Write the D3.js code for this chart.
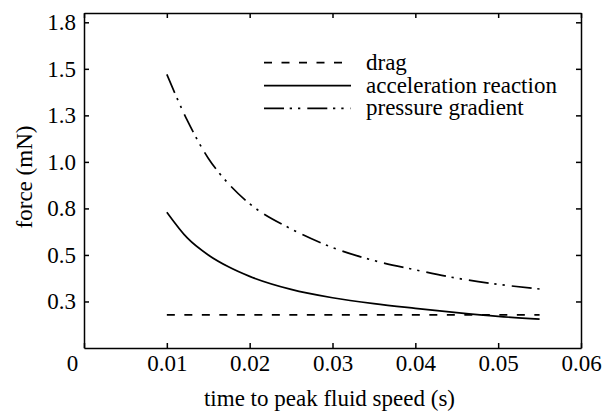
<!DOCTYPE html>
<html>
<head>
<meta charset="utf-8">
<script src="https://cdn.jsdelivr.net/npm/d3@7"></script>
<style>
  body { margin: 0; background: #fff; }
  svg { font-family: "Liberation Serif", "Times New Roman", serif; }
  .axis path, .axis line { stroke: #000; stroke-width: 1.5; }
  .axis text { font-size: 23px; fill: #000; font-family: "Liberation Serif", "Times New Roman", serif; }
</style>
</head>
<body>
<svg id="svgChart"></svg>
<script>
// time to peak fluid speed (s)
var times = [0.010, 0.0125, 0.015, 0.0175, 0.020, 0.025, 0.030, 0.035, 0.040, 0.045, 0.050, 0.055];
// forces (mN)
var drag = [0.178, 0.178, 0.178, 0.178, 0.178, 0.178, 0.178, 0.178, 0.178, 0.178, 0.178, 0.178];
var accelerationReaction = [0.73, 0.59, 0.50, 0.435, 0.385, 0.315, 0.27, 0.238, 0.213, 0.19, 0.17, 0.155];
var pressureGradient = [1.47, 1.22, 1.02, 0.88, 0.775, 0.64, 0.54, 0.47, 0.42, 0.375, 0.342, 0.317];

var seriesNames = ["drag", "acceleration reaction", "pressure gradient"];

var xTicks = [0, 0.01, 0.02, 0.03, 0.04, 0.05, 0.06];
var xTickLabels = ["0", "0.01", "0.02", "0.03", "0.04", "0.05", "0.06"];
var yTicks = [0.25, 0.5, 0.75, 1.0, 1.25, 1.5, 1.75];
var yTickLabels = ["0.3", "0.5", "0.8", "1.0", "1.3", "1.5", "1.8"];

class Chart {
    constructor() {
        this.margin = {top: 13, right: 35, bottom: 64, left: 84};
        this.width = 616 - this.margin.left - this.margin.right;
        this.height = 412 - this.margin.top - this.margin.bottom;
        this.dashes = ["8,9.5", null, "20,5.7,2.3,6,2.3,7"];
        this.draw();
    }

    draw() {
        this.svg = d3.select("#svgChart")
            .attr("width", 616)
            .attr("height", 412);
        this.g = this.svg.append("g")
            .attr("transform", "translate(" + this.margin.left + "," + this.margin.top + ")");

        this.createScales();
        this.addAxes();
        this.addLines();
        this.addLegend();
    }

    createScales() {
        this.x = d3.scaleLinear().domain([0, 0.06]).range([0, this.width]);
        this.y = d3.scaleLinear().domain([0, 1.8]).range([this.height, 0]);
    }

    addAxes() {
        var g = this.g;

        // bottom axis, ticks pointing in
        var xb = g.append("g")
            .attr("class", "axis")
            .attr("transform", "translate(0," + this.height + ")")
            .call(d3.axisBottom(this.x).tickValues(xTicks).tickSizeInner(-5).tickSizeOuter(0)
                .tickPadding(7).tickFormat(function(d, i) { return xTickLabels[i]; }));
        // the zero sits off to the left of the corner
        xb.selectAll(".tick text").filter(function(d) { return d === 0; }).attr("dx", -12);

        g.append("g")
            .attr("class", "axis")
            .call(d3.axisTop(this.x).tickValues(xTicks).tickSizeInner(-5).tickSizeOuter(0).tickFormat(""));

        g.append("g")
            .attr("class", "axis")
            .call(d3.axisLeft(this.y).tickValues(yTicks).tickSizeInner(-5).tickSizeOuter(0)
                .tickPadding(8).tickFormat(function(d, i) { return yTickLabels[i]; }));

        g.append("g")
            .attr("class", "axis")
            .attr("transform", "translate(" + this.width + ",0)")
            .call(d3.axisRight(this.y).tickValues(yTicks).tickSizeInner(-5).tickSizeOuter(0).tickFormat(""));

        // d3 puts sans-serif on the axis groups, drop it
        this.svg.selectAll(".axis").attr("font-family", null).attr("font-size", null);

        // axis titles
        this.svg.append("text")
            .attr("x", this.margin.left + this.width / 2 - 3)
            .attr("y", 406)
            .attr("text-anchor", "middle")
            .style("font-size", "23px")
            .text("time to peak fluid speed (s)");

        this.svg.append("text")
            .attr("transform", "translate(32," + 177 + ") rotate(-90)")
            .attr("text-anchor", "middle")
            .style("font-size", "23px")
            .text("force (mN)");
    }

    addLines() {
        var x = this.x, y = this.y;
        var all = [drag, accelerationReaction, pressureGradient];
        var line = d3.line()
            .x(function(d, i) { return x(times[i]); })
            .y(function(d) { return y(d); })
            .curve(d3.curveMonotoneX);

        var _this = this;
        all.forEach(function(values, k) {
            _this.g.append("path")
                .datum(values)
                .attr("fill", "none")
                .attr("stroke", "#000")
                .attr("stroke-width", 1.7)
                .attr("stroke-dasharray", _this.dashes[k])
                .attr("d", line);
        });
    }

    addLegend() {
        var rowsY = [62.7, 85.7, 108.3];
        var legend = this.svg.append("g").attr("class", "legend");
        var _this = this;
        seriesNames.forEach(function(name, k) {
            legend.append("line")
                .attr("x1", 264).attr("x2", 351)
                .attr("y1", rowsY[k]).attr("y2", rowsY[k])
                .attr("stroke", "#000")
                .attr("stroke-width", 1.7)
                .attr("stroke-dasharray", _this.dashes[k]);
            legend.append("text")
                .attr("x", 366)
                .attr("y", rowsY[k])
                .attr("dy", "0.3em")
                .style("font-size", "23px")
                .text(name);
        });
    }
}

new Chart();
</script>
</body>
</html>
